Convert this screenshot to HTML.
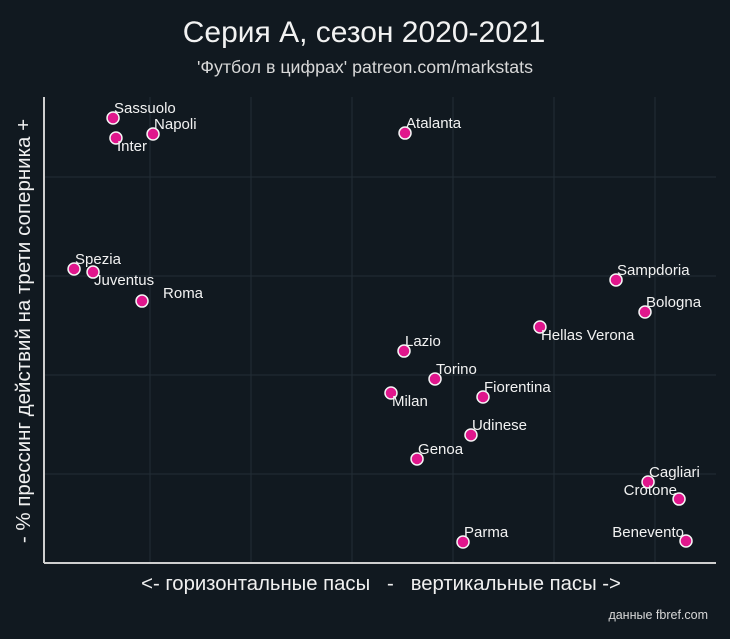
<!DOCTYPE html>
<html><head><meta charset="utf-8"><style>
html,body{margin:0;padding:0;background:#111920;}
svg{display:block;font-family:"Liberation Sans","DejaVu Sans",sans-serif;}
</style></head><body>
<svg width="730" height="639" viewBox="0 0 730 639">
<rect width="730" height="639" fill="#111920"/>
<text x="364" y="42" text-anchor="middle" fill="#f2f2f2" font-size="30">Серия А, сезон 2020-2021</text>
<text x="365" y="73" text-anchor="middle" fill="#d8d8d8" font-size="17.8">'Футбол в цифрах' patreon.com/markstats</text>
<g id="grid"></g>
<line x1="44" y1="97" x2="44" y2="563" stroke="#cfcfcf" stroke-width="2"/>
<line x1="44" y1="563" x2="716" y2="563" stroke="#cfcfcf" stroke-width="2"/>
<g id="points"></g>
<text x="381" y="590" text-anchor="middle" fill="#f0f0f0" font-size="20.3" xml:space="preserve">&lt;- горизонтальные пасы   -   вертикальные пасы -&gt;</text>
<text transform="translate(30,331) rotate(-90)" text-anchor="middle" fill="#f0f0f0" font-size="20.5">- % прессинг действий на трети соперника +</text>
<text x="708" y="619" text-anchor="end" fill="#d8d8d8" font-size="12.5">данные fbref.com</text>
</svg>
<script>
const teams=["Sassuolo","Inter","Napoli","Atalanta","Spezia","Juventus","Roma","Sampdoria","Bologna","Hellas Verona","Lazio","Torino","Milan","Fiorentina","Udinese","Genoa","Cagliari","Crotone","Parma","Benevento"];
const xVals=[0.634,0.663,1.030,3.525,0.248,0.436,0.921,5.614,5.901,4.861,3.515,3.822,3.386,4.297,4.178,3.644,5.931,6.238,4.099,6.307];
const yVals=[4.596,4.394,4.434,4.444,3.071,3.040,2.747,2.960,2.636,2.485,2.242,1.960,1.818,1.778,1.394,1.152,0.919,0.747,0.313,0.323];
const labelPos=["ar","br","ar","ar","ar","br","r","ar","ar","br","ar","ar","br","ar","ar","ar","ar","al","ar","al"];
const xGrid=[1,2,3,4,5,6];
const yGrid=[1,2,3,4];
const NS="http://www.w3.org/2000/svg";
function sx(v){return 49+101*v;}
function sy(v){return 573-99*v;}
const grid=document.getElementById('grid');
xGrid.forEach(v=>{const l=document.createElementNS(NS,'line');
l.setAttribute('x1',sx(v));l.setAttribute('x2',sx(v));l.setAttribute('y1',97);l.setAttribute('y2',563);
l.setAttribute('stroke','#222d36');l.setAttribute('stroke-width','1');


grid.appendChild(l);});
yGrid.forEach(v=>{const l=document.createElementNS(NS,'line');
l.setAttribute('x1',44);l.setAttribute('x2',716);l.setAttribute('y1',sy(v));l.setAttribute('y2',sy(v));
l.setAttribute('stroke','#222d36');l.setAttribute('stroke-width','1');


grid.appendChild(l);});
const pts=document.getElementById('points');
teams.forEach((t,i)=>{
const cx=sx(xVals[i]),cy=sy(yVals[i]);
const c=document.createElementNS(NS,'circle');
c.setAttribute('cx',cx);c.setAttribute('cy',cy);c.setAttribute('r',6);
c.setAttribute('fill','#e0168c');c.setAttribute('stroke','#f4f4f4');c.setAttribute('stroke-width','1.5');


pts.appendChild(c);
const tx=document.createElementNS(NS,'text');
let x=cx+1,y=cy-5,anchor='start';
const p=labelPos[i];
if(p==='br'){x=cx+1;y=cy+13;}
else if(p==='r'){x=cx+21;y=cy-3;}
else if(p==='al'){x=cx-2;y=cy-4;anchor='end';}
tx.setAttribute('x',x);tx.setAttribute('y',y);tx.setAttribute('text-anchor',anchor);
tx.setAttribute('fill','#f2f2f2');tx.setAttribute('font-size','15');
tx.textContent=t;


pts.appendChild(tx);
});
</script>
</body></html>
